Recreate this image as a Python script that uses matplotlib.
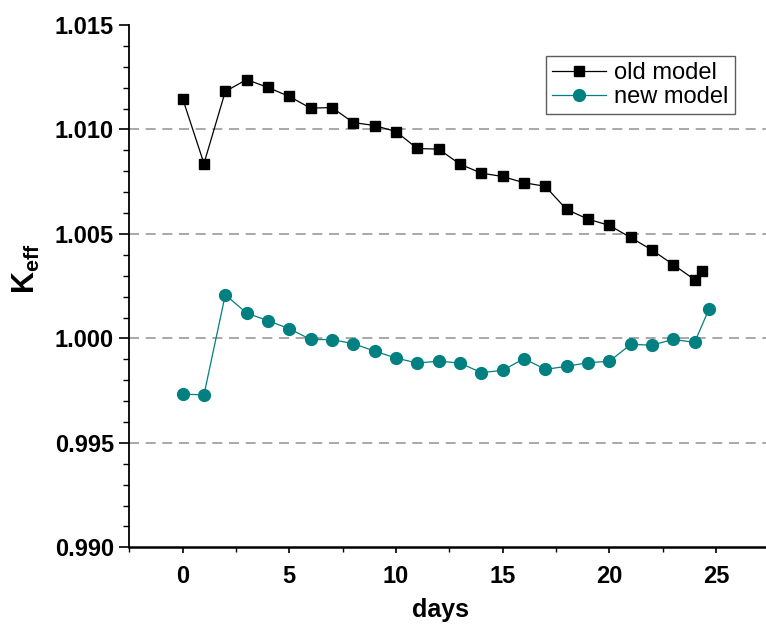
import matplotlib
matplotlib.use("Agg")
import matplotlib.pyplot as plt
from matplotlib.ticker import MultipleLocator, FormatStrFormatter

# K_eff versus burnup time for the two models
days_old = [0, 1, 2, 3, 4, 5, 6, 7, 8, 9, 10, 11, 12, 13, 14, 15, 16, 17,
            18, 19, 20, 21, 22, 23, 24, 24.33]
keff_old = [1.01148, 1.00837, 1.01182, 1.01239, 1.01201, 1.01158, 1.01102,
            1.01105, 1.01033, 1.01019, 1.00990, 1.00909, 1.00906, 1.00834,
            1.00791, 1.00775, 1.00745, 1.00728, 1.00617, 1.00571, 1.00541,
            1.00483, 1.00423, 1.00353, 1.00281, 1.00321]

days_new = [0, 1, 2, 3, 4, 5, 6, 7, 8, 9, 10, 11, 12, 13, 14, 15, 16, 17,
            18, 19, 20, 21, 22, 23, 24, 24.68]
keff_new = [0.99733, 0.99730, 1.00209, 1.00121, 1.00085, 1.00046, 0.99995,
            0.99994, 0.99975, 0.99939, 0.99906, 0.99882, 0.99891, 0.99882,
            0.99836, 0.99847, 0.99903, 0.99852, 0.99866, 0.99884, 0.99890,
            0.99971, 0.99968, 0.99995, 0.99981, 1.00142]

series_labels = ["old model", "new model"]
grid_levels = [0.995, 1.000, 1.005, 1.010]

plt.rcParams["font.family"] = ["Liberation Sans", "DejaVu Sans"]
plt.rcParams["mathtext.fontset"] = "custom"
plt.rcParams["mathtext.bf"] = "Liberation Sans:bold"
plt.rcParams["mathtext.rm"] = "Liberation Sans"

fig = plt.figure(figsize=(7.66, 6.24), dpi=100)
ax = fig.add_axes([0.1688, 0.1229, 0.8355, 0.837])

for g in grid_levels:
    ax.axhline(g, color="#999999", lw=1.2, ls=(0, (6, 4)), zorder=1)

teal = "#008080"
ax.plot(days_old, keff_old, color="black", lw=0.9, marker="s", ms=7,
        mec="black", mfc="black", label=series_labels[0], zorder=3)
ax.plot(days_new, keff_new, color=teal, lw=0.9, marker="o", ms=8.5,
        mec=teal, mfc=teal, label=series_labels[1], zorder=3)

ax.set_xlim(-2.5, 27.5)
ax.set_ylim(0.990, 1.015)

ax.xaxis.set_major_locator(MultipleLocator(5))
ax.xaxis.set_minor_locator(MultipleLocator(2.5))
ax.yaxis.set_major_locator(MultipleLocator(0.005))
ax.yaxis.set_minor_locator(MultipleLocator(0.001))
ax.yaxis.set_major_formatter(FormatStrFormatter("%.3f"))

for s in ("top", "right"):
    ax.spines[s].set_visible(False)
ax.spines["left"].set_linewidth(1.3)
ax.spines["bottom"].set_linewidth(1.8)

ax.tick_params(axis="y", which="major", direction="out", length=7, width=1.2,
               pad=4, labelsize=17)
ax.tick_params(axis="y", which="minor", direction="out", length=4, width=1.0)
ax.tick_params(axis="x", which="major", direction="out", length=4.5, width=1.2,
               pad=8, labelsize=17)
ax.tick_params(axis="x", which="minor", direction="out", length=3.5, width=1.0)
for lab in ax.get_xticklabels() + ax.get_yticklabels():
    lab.set_fontweight("bold")

ax.set_xlabel("days", fontsize=18, fontweight="bold")
ax.xaxis.set_label_coords(0.4855, -0.097)
ax.set_ylabel(r"$\mathbf{K}_{\mathbf{eff}}$", fontsize=22)
ax.yaxis.set_label_coords(-0.137, 0.534)

leg = ax.legend(loc="upper left", bbox_to_anchor=(0.651, 0.9405),
                fontsize=17, frameon=True, fancybox=False, handlelength=2.3,
                borderpad=0.25, labelspacing=0.1, handletextpad=0.35,
                borderaxespad=0.0)
leg.get_frame().set_edgecolor("#333333")
leg.get_frame().set_linewidth(1.0)

fig.savefig("out.png", dpi=100)
